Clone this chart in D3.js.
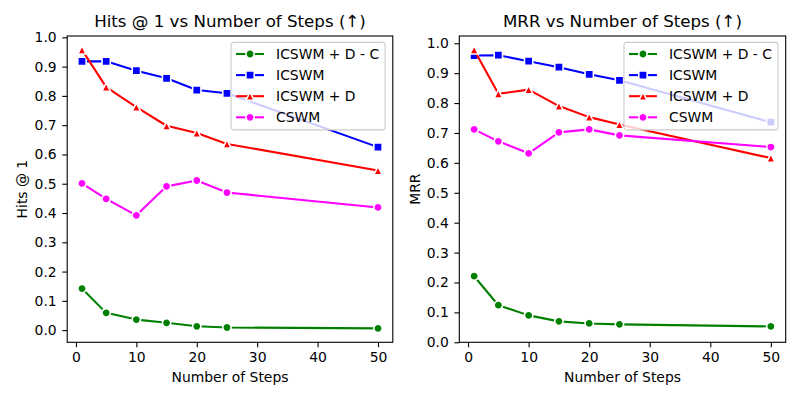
<!DOCTYPE html>
<html>
<head>
    <meta charset="utf-8">
    <script src="https://cdn.jsdelivr.net/npm/d3@7"></script>
    <style>
        body { margin: 0; background: #fff; }
        text { font-family: "DejaVu Sans", sans-serif; fill: #000; }
    </style>
</head>

<body>

    <div id="graph"></div>

<script>

// steps on the x axis (same for both panels)
const steps = [1, 5, 10, 15, 20, 25, 50];

// series names, in drawing order
const seriesNames = ["ICSWM + D - C", "ICSWM", "ICSWM + D", "CSWM"];

// hits @ 1 values
const hitsIcswmDC = [0.142, 0.059, 0.036, 0.025, 0.013, 0.009, 0.006];
const hitsIcswm   = [0.918, 0.918, 0.886, 0.860, 0.820, 0.809, 0.625];
const hitsIcswmD  = [0.957, 0.830, 0.762, 0.698, 0.673, 0.636, 0.545];
const hitsCswm    = [0.501, 0.448, 0.392, 0.491, 0.511, 0.470, 0.419];

// mrr values
const mrrIcswmDC = [0.221, 0.124, 0.090, 0.070, 0.063, 0.060, 0.053];
const mrrIcswm   = [0.959, 0.960, 0.940, 0.920, 0.896, 0.876, 0.736];
const mrrIcswmD  = [0.978, 0.831, 0.845, 0.790, 0.753, 0.728, 0.616];
const mrrCswm    = [0.712, 0.672, 0.632, 0.702, 0.712, 0.692, 0.653];

// tick labels
const xTicks = [0, 10, 20, 30, 40, 50];
const yTicks = [0.0, 0.1, 0.2, 0.3, 0.4, 0.5, 0.6, 0.7, 0.8, 0.9, 1.0];

const colors = ["#008000", "#0000ff", "#ff0000", "#ff00ff"];

// matplotlib style "^" marker (isoceles in a square box)
const triangleUp = {
    draw(ctx, size) {
        const r = Math.sqrt(size) / 2;
        ctx.moveTo(0, -r);
        ctx.lineTo(r, r);
        ctx.lineTo(-r, r);
        ctx.closePath();
    }
};
const symbols = [
    d3.symbol().type(d3.symbolCircle).size(Math.PI * 4.17 * 4.17),
    d3.symbol().type(d3.symbolSquare).size(8.3 * 8.3),
    d3.symbol().type(triangleUp).size(8.3 * 8.3),
    d3.symbol().type(d3.symbolCircle).size(Math.PI * 4.17 * 4.17)
];

const svg = d3.select("#graph")
  .append("svg")
    .attr("width", 800)
    .attr("height", 400);

function drawPanel(opts) {
    const x0 = opts.left, x1 = opts.right, y0 = 36, y1 = 342.3;

    // matplotlib-like 5% autoscale margins
    const allVals = opts.series.flat();
    let lo = d3.min(allVals), hi = d3.max(allVals);
    const pad = (hi - lo) * 0.05;
    const yMin = opts.zeroBottom ? 0 : lo - pad;
    const xPad = (d3.max(steps) - d3.min(steps)) * 0.05;

    const x = d3.scaleLinear()
      .domain([d3.min(steps) - xPad, d3.max(steps) + xPad])
      .range([x0, x1]);
    const y = d3.scaleLinear()
      .domain([yMin, hi + pad])
      .range([y1, y0]);

    const g = svg.append("g");

    // x axis
    const xa = g.append("g")
      .attr("transform", `translate(0, ${y1})`)
      .call(d3.axisBottom(x).tickValues(xTicks).tickFormat(d3.format("d")).tickSize(4.9).tickPadding(5.2).tickSizeOuter(0));
    // y axis
    const ya = g.append("g")
      .attr("transform", `translate(${x0}, 0)`)
      .call(d3.axisLeft(y).tickValues(yTicks).tickFormat(d3.format(".1f")).tickSize(4.9).tickPadding(5.6).tickSizeOuter(0));
    [xa, ya].forEach(a => {
        a.select(".domain").remove();
        a.selectAll(".tick line").attr("stroke", "#000").attr("stroke-width", 1.1);
        a.selectAll(".tick text").style("font-size", "13.9px").style("font-family", "DejaVu Sans");
    });

    // lines + markers
    opts.series.forEach((vals, i) => {
        const pts = steps.map((s, j) => ({s: s, v: vals[j]}));
        g.append("path")
          .datum(pts)
          .attr("fill", "none")
          .attr("stroke", colors[i])
          .attr("stroke-width", 2.08)
          .attr("stroke-linejoin", "round")
          .attr("d", d3.line()
            .x(d => x(d.s))
            .y(d => y(d.v))
          );
        g.selectAll(null)
          .data(pts)
          .enter()
          .append("path")
            .attr("transform", d => `translate(${x(d.s)},${y(d.v)})`)
            .attr("d", symbols[i])
            .attr("fill", colors[i])
            .attr("stroke", "#fff")
            .attr("stroke-width", 1.56);
    });

    // frame
    g.append("rect")
      .attr("x", x0).attr("y", y0)
      .attr("width", x1 - x0).attr("height", y1 - y0)
      .attr("fill", "none")
      .attr("stroke", "#000")
      .attr("stroke-width", 1.1);

    // title and labels
    g.append("text")
      .attr("x", (x0 + x1) / 2).attr("y", 27)
      .attr("text-anchor", "middle")
      .style("font-size", "16.67px")
      .text(opts.title);
    g.append("text")
      .attr("x", (x0 + x1) / 2).attr("y", 381.5)
      .attr("text-anchor", "middle")
      .style("font-size", "13.9px")
      .text("Number of Steps");
    g.append("text")
      .attr("transform", `translate(${opts.ylabelX}, ${(y0 + y1) / 2}) rotate(-90)`)
      .attr("text-anchor", "middle")
      .style("font-size", "13.9px")
      .text(opts.ylabel);

    // legend
    const lg = g.append("g");
    const box = lg.append("rect")
      .attr("fill", "#fff")
      .attr("fill-opacity", 0.8)
      .attr("stroke", "#cccccc")
      .attr("stroke-width", 1.1)
      .attr("rx", 2.8);
    let maxLen = 0;
    seriesNames.forEach((name, i) => {
        const cy = 11.6 + i * 21.1;
        lg.append("line")
          .attr("x1", 5).attr("x2", 33)
          .attr("y1", cy).attr("y2", cy)
          .attr("stroke", colors[i])
          .attr("stroke-width", 2.08);
        lg.append("path")
          .attr("transform", `translate(19, ${cy})`)
          .attr("d", symbols[i])
          .attr("fill", colors[i])
          .attr("stroke", "#fff")
          .attr("stroke-width", 1.56);
        const t = lg.append("text")
          .attr("x", 45).attr("y", cy + 5)
          .style("font-size", "13.9px")
          .text(name);
        maxLen = Math.max(maxLen, t.node().getComputedTextLength());
    });
    const lw = 45 + maxLen + 6, lh = 87.5;
    box.attr("width", lw).attr("height", lh);
    lg.attr("transform", `translate(${x1 - 7.7 - lw}, ${y0 + 6.4})`);
}

drawPanel({
    left: 67.2, right: 392.8,
    series: [hitsIcswmDC, hitsIcswm, hitsIcswmD, hitsCswm],
    title: "Hits @ 1 vs Number of Steps (\u2191)",
    ylabel: "Hits @ 1",
    ylabelX: 26.7,
    zeroBottom: false
});

drawPanel({
    left: 459.3, right: 785.7,
    series: [mrrIcswmDC, mrrIcswm, mrrIcswmD, mrrCswm],
    title: "MRR vs Number of Steps (\u2191)",
    ylabel: "MRR",
    ylabelX: 419.5,
    zeroBottom: true
});

</script>

</body>
</html>
